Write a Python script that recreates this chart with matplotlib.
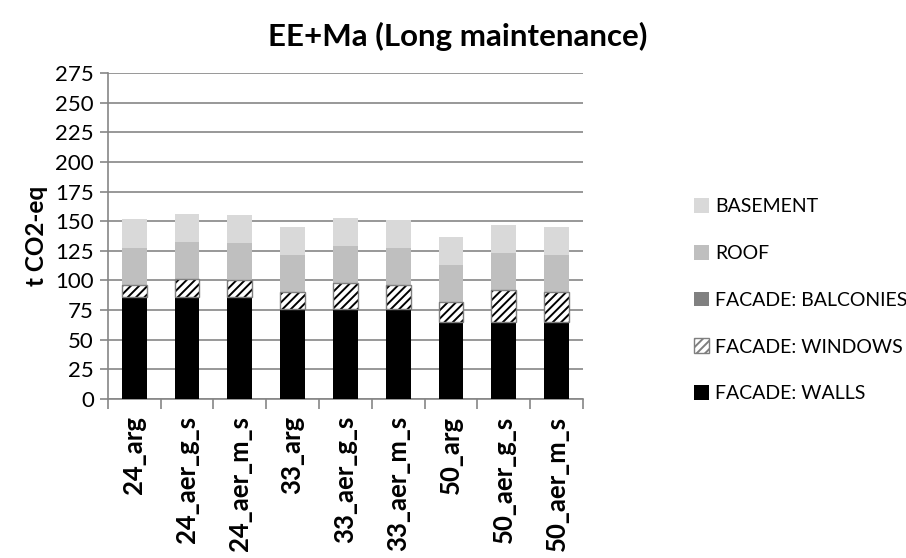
import numpy as np
import matplotlib
matplotlib.use("Agg")
import matplotlib.pyplot as plt
from matplotlib.patches import Patch

plt.rcParams['font.family'] = ['Lato', 'DejaVu Sans']
plt.rcParams['hatch.linewidth'] = 1.4

cases = ['24_arg', '24_aer_g_s', '24_aer_m_s', '33_arg', '33_aer_g_s', '33_aer_m_s',
         '50_arg', '50_aer_g_s', '50_aer_m_s']
walls = [86.4, 86.4, 86.4, 75.7, 75.7, 75.7, 65.0, 65.0, 65.0]
windows = [10.1, 14.9, 14.1, 14.7, 22.3, 20.6, 16.9, 27.3, 25.6]
balconies = [0, 0, 0, 0, 0, 0, 0, 0, 0]
roof = [31.3, 31.0, 31.0, 30.9, 30.9, 31.5, 30.9, 31.0, 31.0]
basement = [24.2, 24.2, 23.9, 24.0, 23.7, 23.6, 24.0, 23.9, 23.9]

c_walls = '#000000'
c_bal = '#808080'
c_roof = '#bfbfbf'
c_base = '#d9d9d9'
grid_c = '#868686'

fig = plt.figure(figsize=(9.06, 5.58), dpi=100)
ax = fig.add_axes([0.119, 0.285, 0.5245, 0.584])

x = np.arange(len(cases))
w = 0.47
bottom = np.zeros(len(cases))

# stacked segments, walls at the bottom
ax.bar(x, walls, w, bottom=bottom, color=c_walls, linewidth=0, zorder=3)
bottom += walls
ax.bar(x, windows, w, bottom=bottom, color='white', edgecolor='black',
       hatch='////', linewidth=0, zorder=3)
ax.bar(x, windows, w, bottom=bottom, fill=False, edgecolor='#7f7f7f',
       linewidth=1.0, zorder=4)
bottom += windows
ax.bar(x, balconies, w, bottom=bottom, color=c_bal, linewidth=0, zorder=3)
bottom += balconies
ax.bar(x, roof, w, bottom=bottom, color=c_roof, linewidth=0, zorder=3)
bottom += roof
ax.bar(x, basement, w, bottom=bottom, color=c_base, linewidth=0, zorder=3)

ax.set_xlim(-0.5, len(cases) - 0.5)
ax.set_ylim(0, 275)
ax.set_yticks(np.arange(0, 276, 25))
ax.yaxis.grid(True, color=grid_c, linewidth=1.2, zorder=0)
ax.set_axisbelow(True)

ax.set_xticks(x)
ax.set_xticklabels(cases, rotation=90, fontsize=18.5, fontweight='bold')
ax.set_xticks(np.arange(-0.5, len(cases), 1), minor=True)
ax.tick_params(axis='x', which='major', length=0, pad=12)
ax.tick_params(axis='x', which='minor', length=7, color=grid_c, width=1.2)
ax.tick_params(axis='y', length=6, color=grid_c, width=1.2, labelsize=16, pad=4)

for side in ['top', 'right']:
    ax.spines[side].set_visible(False)
for side in ['left', 'bottom']:
    ax.spines[side].set_color(grid_c)
    ax.spines[side].set_linewidth(1.2)

ax.set_ylabel('t CO2-eq', fontsize=17.5, fontweight='bold', labelpad=5)

fig.suptitle('EE+Ma (Long maintenance)', fontsize=22.5, fontweight='bold',
             x=0.505, y=0.96)

handles = [
    Patch(facecolor=c_base, edgecolor='none', label='BASEMENT'),
    Patch(facecolor=c_roof, edgecolor='none', label='ROOF'),
    Patch(facecolor=c_bal, edgecolor='none', label='FACADE: BALCONIES'),
    Patch(facecolor='white', edgecolor='#7f7f7f', hatch='////', label='FACADE: WINDOWS'),
    Patch(facecolor=c_walls, edgecolor='none', label='FACADE: WALLS'),
]
fig.legend(handles=handles, loc='center left', bbox_to_anchor=(0.757, 0.462),
           frameon=False, fontsize=14, labelspacing=1.52, handlelength=0.8,
           handleheight=0.8, handletextpad=0.3, borderaxespad=0)

fig.savefig('out.png', dpi=100)
